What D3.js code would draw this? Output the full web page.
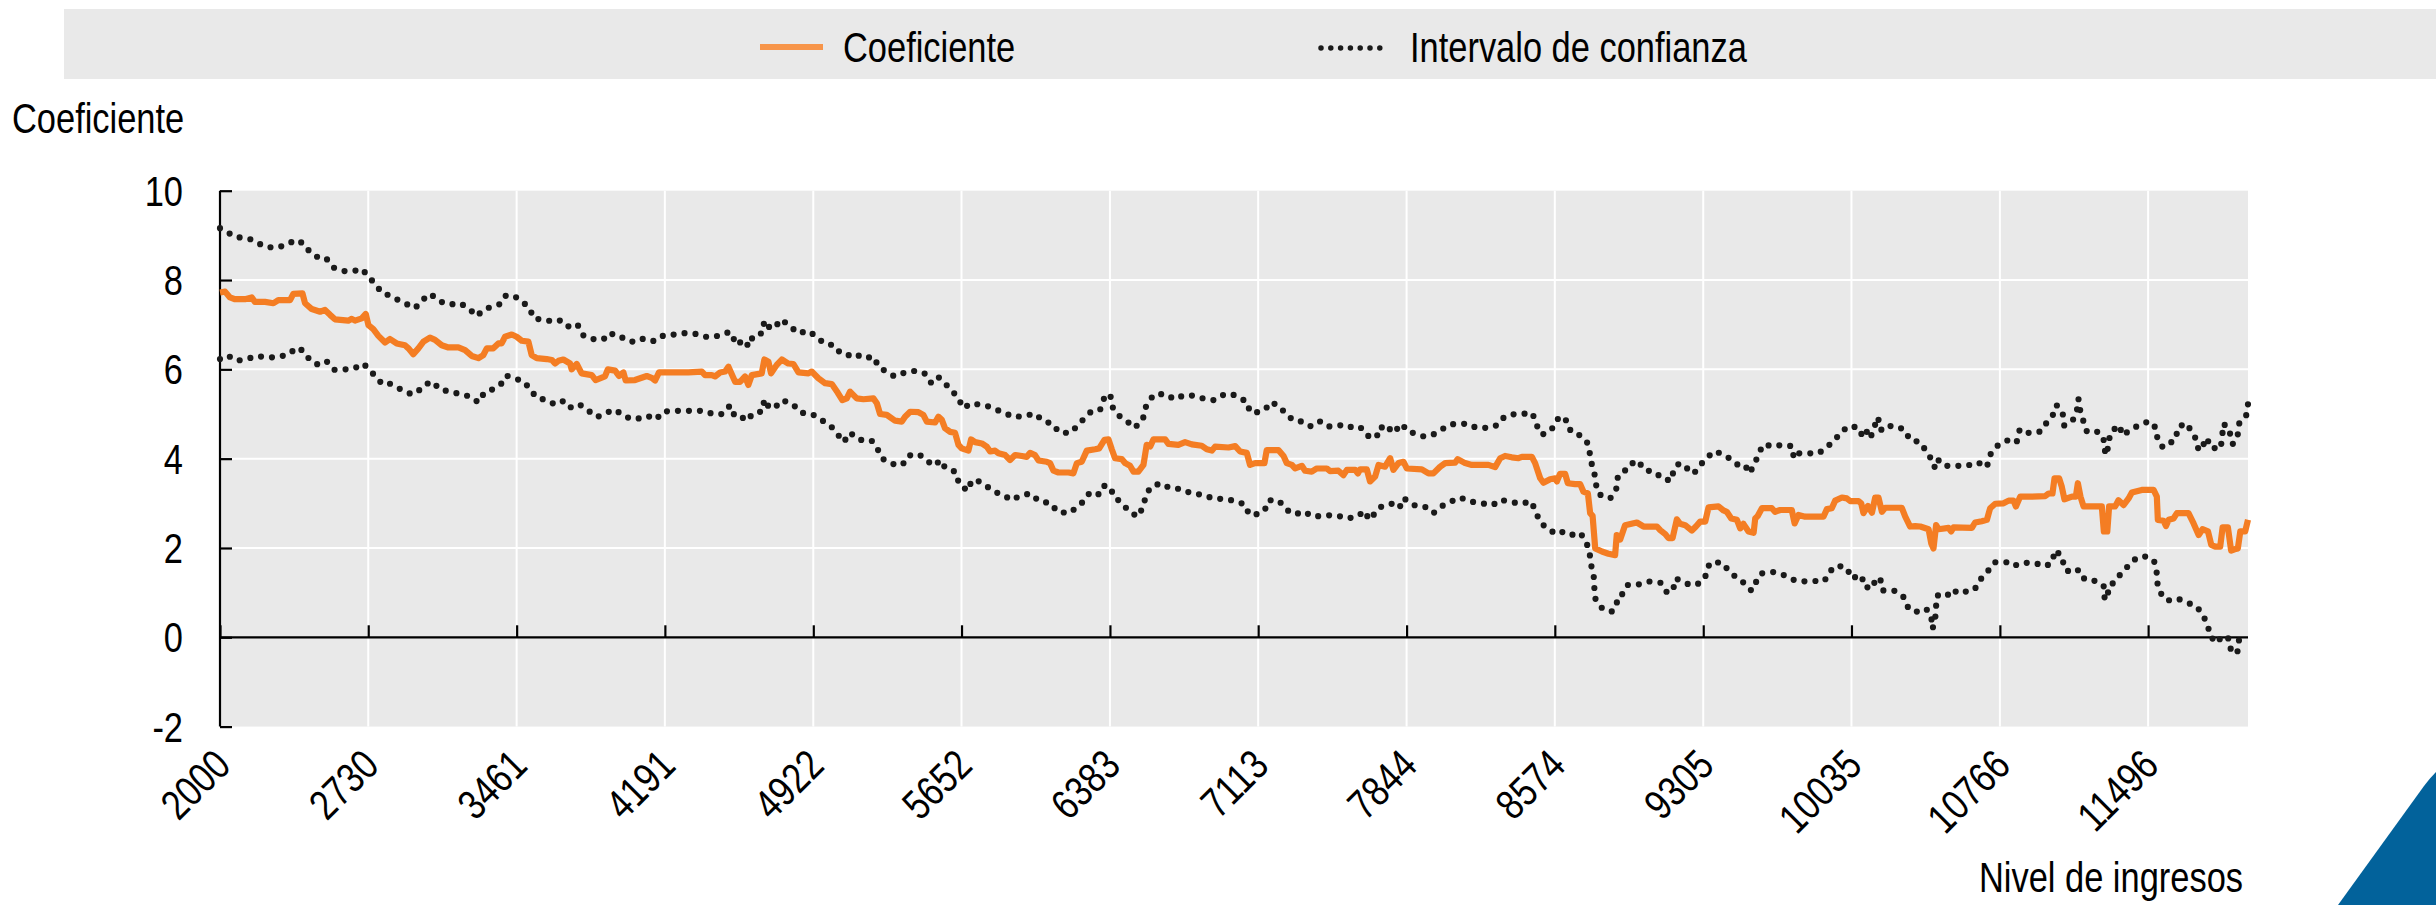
<!DOCTYPE html>
<html>
<head>
<meta charset="utf-8">
<script src="https://cdn.jsdelivr.net/npm/d3@7"></script>
<style>
  html, body { margin: 0; padding: 0; background: #ffffff; }
  svg { display: block; }
  text { font-family: 'Liberation Sans', Arial, sans-serif; fill: #000; }
</style>
</head>
<body>
<svg id="chart" width="2436" height="905"></svg>
<script>
// ---------------- DATA ----------------
const xTickLabels = [2000, 2730, 3461, 4191, 4922, 5652, 6383, 7113, 7844, 8574, 9305, 10035, 10766, 11496];
const yTickLabels = [-2, 0, 2, 4, 6, 8, 10];
const seriesNames = ["Coeficiente", "Intervalo de confianza"];
const yTitle = "Coeficiente";
const xTitle = "Nivel de ingresos";

// [income, coefficient]
const coeficiente = [
[2000,7.72],[2025,7.74],[2049,7.61],[2074,7.57],[2123,7.57],[2156,7.61],[2172,7.51],[2222,7.51],[2263,7.48],[2287,7.55],[2345,7.55],[2361,7.69],[2406,7.70],[2419,7.48],[2452,7.35],[2493,7.29],[2517,7.33],[2542,7.22],[2566,7.12],[2632,7.09],[2649,7.13],[2665,7.09],[2698,7.14],[2718,7.24],[2731,6.99],[2755,6.90],[2780,6.75],[2813,6.60],[2837,6.68],[2870,6.58],[2911,6.54],[2928,6.47],[2952,6.34],[2977,6.47],[3002,6.62],[3034,6.71],[3059,6.66],[3092,6.54],[3125,6.49],[3174,6.49],[3207,6.43],[3240,6.30],[3273,6.25],[3297,6.32],[3314,6.47],[3346,6.47],[3371,6.58],[3387,6.58],[3404,6.73],[3437,6.78],[3461,6.73],[3486,6.64],[3519,6.62],[3535,6.32],[3560,6.25],[3609,6.23],[3634,6.21],
[3650,6.13],[3667,6.19],[3691,6.22],[3724,6.13],[3732,6.00],[3757,6.12],[3781,5.91],[3831,5.87],[3850,5.76],[3896,5.84],[3910,6.00],[3946,5.97],[3965,5.85],[3987,5.93],[3998,5.75],[4044,5.76],[4102,5.85],[4126,5.81],[4143,5.75],[4162,5.93],[4225,5.93],[4307,5.93],[4373,5.95],[4389,5.87],[4422,5.87],[4438,5.84],[4463,5.93],[4488,5.95],[4504,6.06],[4537,5.72],[4561,5.72],[4586,5.84],[4602,5.65],[4619,5.87],[4668,5.91],[4681,6.22],[4701,6.17],[4714,5.91],[4742,6.10],[4767,6.22],[4799,6.13],[4824,6.12],[4849,5.93],[4898,5.91],[4914,5.95],[4947,5.80],[4980,5.69],[5013,5.67],[5042,5.48],[5065,5.31],[5087,5.35],[5103,5.50],[5136,5.35],[5169,5.33],[5218,5.35],[5235,5.24],[5251,5.00],[5284,4.98],
[5325,4.85],[5358,4.83],[5374,4.94],[5399,5.05],[5440,5.04],[5464,4.98],[5481,4.83],[5522,4.81],[5538,4.94],[5555,4.87],[5571,4.68],[5596,4.60],[5620,4.58],[5637,4.31],[5653,4.23],[5686,4.18],[5699,4.43],[5719,4.37],[5752,4.34],[5776,4.27],[5793,4.16],[5817,4.18],[5834,4.12],[5867,4.08],[5891,3.97],[5916,4.08],[5949,4.06],[5973,4.04],[5990,4.13],[6014,4.08],[6031,3.96],[6072,3.93],[6088,3.90],[6105,3.73],[6129,3.69],[6179,3.69],[6203,3.67],[6220,3.90],[6244,3.93],[6269,4.18],[6310,4.21],[6330,4.23],[6356,4.42],[6376,4.43],[6392,4.21],[6408,4.01],[6441,3.99],[6458,3.90],[6482,3.84],[6499,3.71],[6523,3.71],[6548,3.86],[6564,4.31],[6581,4.27],[6597,4.43],[6655,4.43],[6671,4.33],[6720,4.31],[6753,4.37],[6786,4.32],[6835,4.29],[6860,4.21],[6885,4.18],[6901,4.27],[6967,4.25],
[7000,4.28],[7024,4.16],[7057,4.13],[7073,3.86],[7098,3.90],[7144,3.90],[7155,4.19],[7213,4.19],[7238,4.06],[7254,3.90],[7279,3.86],[7295,3.78],[7328,3.84],[7344,3.73],[7377,3.71],[7402,3.78],[7451,3.78],[7467,3.72],[7508,3.73],[7533,3.63],[7550,3.75],[7591,3.75],[7604,3.67],[7615,3.76],[7648,3.76],[7664,3.49],[7689,3.60],[7706,3.86],[7738,3.82],[7763,4.01],[7779,3.75],[7804,3.90],[7829,3.93],[7845,3.78],[7919,3.76],[7952,3.67],[7976,3.67],[8009,3.82],[8034,3.90],[8083,3.91],[8096,3.99],[8132,3.90],[8165,3.86],[8247,3.86],[8280,3.81],[8305,4.01],[8329,4.06],[8362,4.03],[8395,4.01],[8412,4.04],[8461,4.04],[8477,3.90],[8502,3.56],[8518,3.46],[8551,3.54],[8576,3.56],[8584,3.49],[8600,3.66],[8625,3.66],[8638,3.45],
[8674,3.43],[8699,3.43],[8715,3.26],[8737,3.22],[8748,2.78],[8760,2.72],[8773,1.99],[8806,1.92],[8838,1.87],[8871,1.84],[8879,2.29],[8896,2.19],[8920,2.51],[8978,2.57],[9011,2.48],[9077,2.48],[9093,2.40],[9118,2.31],[9134,2.22],[9154,2.22],[9175,2.64],[9191,2.54],[9216,2.51],[9249,2.39],[9269,2.48],[9290,2.59],[9315,2.59],[9331,2.91],[9380,2.93],[9405,2.84],[9421,2.81],[9443,2.66],[9471,2.63],[9487,2.44],[9503,2.54],[9528,2.37],[9553,2.34],[9561,2.66],[9574,2.72],[9594,2.89],[9643,2.89],[9659,2.81],[9684,2.85],[9741,2.85],[9755,2.55],[9774,2.74],[9807,2.70],[9897,2.70],[9914,2.87],[9938,2.89],[9955,3.06],[9988,3.13],[10012,3.11],[10029,3.05],[10070,3.05],[10083,3.00],[10094,2.78],[10116,2.94],[10136,2.79],[10152,3.13],[10168,3.13],[10185,2.81],[10201,2.90],[10283,2.90],[10300,2.70],[10324,2.48],
[10349,2.49],[10374,2.48],[10415,2.42],[10428,2.10],[10439,1.99],[10452,2.51],[10464,2.42],[10513,2.45],[10526,2.37],[10538,2.46],[10628,2.45],[10644,2.57],[10677,2.60],[10702,2.63],[10718,2.89],[10743,2.99],[10784,3.00],[10809,3.06],[10833,3.06],[10845,2.93],[10866,3.15],[10924,3.15],[10989,3.16],[11006,3.22],[11025,3.22],[11035,3.56],[11058,3.56],[11071,3.37],[11084,3.09],[11121,3.15],[11140,3.15],[11150,3.45],[11163,3.15],[11178,2.93],[11268,2.93],[11278,2.37],[11295,2.37],[11304,2.93],[11334,2.93],[11350,3.07],[11375,2.96],[11400,3.11],[11416,3.24],[11465,3.30],[11523,3.30],[11539,3.15],[11544,2.63],[11572,2.61],[11584,2.49],[11597,2.63],[11621,2.66],[11638,2.78],[11695,2.78],[11720,2.55],[11745,2.29],[11764,2.42],[11791,2.37],[11807,2.07],[11827,2.03],[11851,2.03],[11863,2.46],[11889,2.46],[11905,1.94],[11922,1.97],[11938,1.99],[11950,2.37],[11974,2.37],[11988,2.63]
];

const intervaloSuperior = [
[2000,9.16],[2033,9.08],[2077,8.96],[2136,8.94],[2176,8.86],[2218,8.75],[2274,8.72],[2323,8.78],[2373,8.90],[2415,8.81],[2443,8.62],[2489,8.49],[2522,8.49],[2558,8.28],[2612,8.20],[2657,8.20],[2699,8.25],[2727,8.10],[2764,7.91],[2800,7.70],[2834,7.66],[2882,7.54],[2928,7.44],[2961,7.37],[2993,7.54],[3036,7.69],[3079,7.53],[3128,7.45],[3182,7.48],[3227,7.36],[3264,7.19],[3302,7.35],[3348,7.41],[3384,7.47],[3409,7.66],[3460,7.61],[3494,7.50],[3524,7.36],[3548,7.13],[3598,7.12],[3642,7.06],
[3683,7.10],[3724,6.93],[3762,6.99],[3791,6.75],[3844,6.67],[3888,6.67],[3921,6.82],[3962,6.71],[3995,6.71],[4036,6.61],[4087,6.69],[4139,6.63],[4185,6.76],[4238,6.78],[4290,6.81],[4348,6.79],[4392,6.73],[4438,6.73],[4491,6.82],[4520,6.82],[4540,6.55],[4586,6.66],[4602,6.51],[4627,6.76],[4671,6.81],[4681,7.09],[4709,6.92],[4730,6.92],[4763,7.12],[4808,6.97],[4845,6.81],[4901,6.86],[4941,6.71],[4980,6.57],[5026,6.54],[5054,6.37],[5092,6.31],[5125,6.36],[5167,6.25],[5220,6.28],[5243,6.06],[5281,5.95],[5322,5.84],
[5374,5.93],[5428,5.97],[5473,5.90],[5502,5.70],[5535,5.84],[5563,5.72],[5601,5.54],[5634,5.37],[5661,5.13],[5699,5.24],[5727,5.22],[5773,5.19],[5822,5.10],[5872,5.01],[5908,4.93],[5965,4.96],[6014,5.01],[6052,4.85],[6105,4.77],[6129,4.60],[6184,4.57],[6220,4.72],[6256,4.90],[6294,5.07],[6335,5.10],[6354,5.35],[6384,5.45],[6395,5.16],[6425,4.97],[6469,4.83],[6504,4.69],[6545,4.87],[6556,5.13],[6573,5.25],[6597,5.43],[6655,5.45],[6701,5.33],[6748,5.42],[6798,5.41],[6848,5.34],[6896,5.31],[6942,5.43],[6983,5.45],
[7013,5.37],[7057,5.28],[7073,5.04],[7111,5.04],[7147,5.10],[7177,5.27],[7221,5.16],[7254,4.97],[7295,4.84],[7336,4.83],[7374,4.72],[7421,4.84],[7463,4.72],[7515,4.75],[7550,4.69],[7594,4.74],[7632,4.66],[7660,4.48],[7696,4.48],[7715,4.72],[7755,4.60],[7771,4.75],[7820,4.60],[7834,4.72],[7873,4.58],[7922,4.50],[7968,4.52],[8011,4.64],[8062,4.77],[8109,4.78],[8146,4.78],[8187,4.69],[8247,4.69],[8290,4.75],[8316,4.90],[8354,4.99],[8405,5.00],[8464,5.02],[8482,4.77],[8510,4.54],[8540,4.58],[8576,4.75],[8595,4.95],[8636,4.84],[8653,4.60],
[8704,4.51],[8737,4.34],[8748,4.08],[8756,3.88],[8768,3.71],[8776,3.43],[8792,3.20],[8847,3.11],[8876,3.30],[8883,3.57],[8907,3.62],[8932,3.84],[8983,3.96],[9014,3.75],[9068,3.70],[9106,3.54],[9149,3.51],[9160,3.77],[9188,3.90],[9229,3.77],[9257,3.66],[9288,3.84],[9319,4.01],[9364,4.17],[9406,4.08],[9452,3.96],[9490,3.80],[9515,3.82],[9531,3.67],[9558,3.87],[9576,4.10],[9602,4.32],[9656,4.27],[9689,4.31],[9743,4.28],[9751,4.01],[9771,4.12],[9812,4.12],[9873,4.12],[9911,4.25],[9950,4.40],[9981,4.58],[10021,4.73],[10068,4.70],[10093,4.47],[10113,4.62],[10129,4.47],[10147,4.70],[10165,4.93],[10181,4.64],[10196,4.73],[10255,4.73],[10298,4.64],[10323,4.42],
[10374,4.37],[10401,4.18],[10428,3.99],[10444,3.81],[10456,4.00],[10490,3.84],[10543,3.84],[10603,3.84],[10656,3.92],[10702,3.81],[10717,4.08],[10751,4.28],[10797,4.40],[10838,4.45],[10850,4.39],[10864,4.66],[10912,4.57],[10968,4.61],[10997,4.81],[11027,4.98],[11045,5.20],[11075,5.03],[11083,4.74],[11126,4.87],[11145,5.07],[11153,5.34],[11162,5.07],[11178,4.83],[11195,4.60],[11252,4.60],[11277,4.42],[11285,4.13],[11293,4.08],[11301,4.37],[11313,4.60],[11354,4.75],[11370,4.52],[11408,4.64],[11451,4.75],[11502,4.84],[11534,4.69],[11543,4.42],[11569,4.25],[11592,4.32],[11633,4.43],[11641,4.69],[11681,4.80],[11708,4.63],[11733,4.43],[11745,4.18],[11761,4.25],[11786,4.47],[11802,4.25],[11853,4.22],[11861,4.49],[11866,4.78],[11897,4.67],[11904,4.38],[11914,4.33],[11937,4.52],[11945,4.79],[11978,4.94],[11988,5.22]
];

const intervaloInferior = [
[2000,6.23],[2038,6.31],[2082,6.19],[2140,6.24],[2176,6.30],[2230,6.27],[2284,6.27],[2340,6.34],[2378,6.49],[2415,6.40],[2443,6.20],[2489,6.09],[2527,6.17],[2563,5.99],[2619,6.00],[2662,6.02],[2703,6.13],[2727,6.04],[2764,5.85],[2801,5.66],[2836,5.68],[2882,5.57],[2931,5.46],[2967,5.46],[3000,5.63],[3043,5.73],[3087,5.54],[3141,5.50],[3190,5.43],[3227,5.40],[3273,5.26],[3302,5.48],[3348,5.56],[3384,5.67],[3410,5.86],[3463,5.78],[3499,5.72],[3525,5.56],[3561,5.36],[3611,5.31],[3650,5.21],
[3696,5.30],[3732,5.13],[3775,5.20],[3818,5.06],[3857,4.93],[3905,5.03],[3942,5.10],[3978,5.00],[4001,4.93],[4047,4.88],[4103,4.96],[4149,4.88],[4179,5.05],[4230,5.07],[4281,5.07],[4333,5.07],[4386,5.07],[4432,4.99],[4474,5.00],[4512,5.19],[4537,4.93],[4578,4.91],[4599,4.85],[4622,5.01],[4671,5.06],[4681,5.33],[4706,5.13],[4734,5.15],[4768,5.31],[4821,5.22],[4860,5.03],[4916,5.00],[4960,4.87],[5005,4.75],[5041,4.55],[5072,4.37],[5103,4.58],[5148,4.42],[5208,4.41],[5238,4.22],[5262,4.00],[5312,3.88],
[5361,3.86],[5390,4.07],[5443,4.10],[5478,3.96],[5519,3.84],[5548,3.97],[5571,3.80],[5624,3.70],[5640,3.43],[5683,3.28],[5702,3.51],[5727,3.52],[5773,3.39],[5817,3.25],[5858,3.19],[5896,3.07],[5942,3.17],[5991,3.22],[6034,3.05],[6092,3.00],[6124,2.81],[6182,2.78],[6220,2.91],[6257,3.06],[6285,3.25],[6331,3.20],[6354,3.39],[6384,3.37],[6404,3.13],[6441,3.02],[6474,2.83],[6520,2.70],[6548,2.93],[6560,3.19],[6586,3.37],[6633,3.45],[6679,3.34],[6737,3.32],[6784,3.22],[6845,3.19],[6894,3.10],[6945,3.10],[6993,3.06],
[7049,2.97],[7068,2.75],[7101,2.75],[7144,2.83],[7165,3.07],[7215,3.06],[7251,2.86],[7295,2.75],[7336,2.82],[7384,2.70],[7443,2.73],[7502,2.73],[7548,2.66],[7600,2.70],[7637,2.83],[7660,2.63],[7678,2.72],[7709,2.90],[7735,2.96],[7771,2.99],[7784,3.04],[7820,2.91],[7837,3.09],[7878,2.96],[7932,2.93],[7976,2.78],[8019,2.94],[8063,3.04],[8108,3.13],[8157,3.04],[8214,3.00],[8269,2.96],[8306,3.08],[8349,3.04],[8403,2.99],[8459,3.04],[8480,2.80],[8503,2.58],[8536,2.43],[8576,2.33],[8600,2.38],[8645,2.28],
[8699,2.34],[8727,2.15],[8745,1.92],[8751,1.64],[8765,1.43],[8768,1.15],[8773,0.87],[8801,0.67],[8852,0.57],[8876,0.67],[8884,0.91],[8904,0.95],[8932,1.17],[8983,1.18],[9039,1.25],[9096,1.22],[9127,1.00],[9155,1.04],[9170,1.32],[9196,1.26],[9246,1.16],[9288,1.21],[9319,1.39],[9336,1.66],[9393,1.68],[9428,1.51],[9467,1.34],[9508,1.21],[9543,1.04],[9563,1.22],[9590,1.43],[9649,1.46],[9704,1.39],[9748,1.29],[9781,1.25],[9842,1.26],[9902,1.26],[9927,1.47],[9963,1.61],[10014,1.55],[10034,1.32],[10085,1.39],[10098,1.13],[10140,1.10],[10154,1.32],[10177,1.31],[10188,1.05],[10249,1.04],[10290,0.91],[10310,0.69],[10346,0.56],
[10403,0.64],[10428,0.46],[10434,0.19],[10447,0.37],[10451,0.65],[10456,0.93],[10502,0.99],[10523,0.90],[10556,1.06],[10612,1.01],[10651,1.12],[10677,1.34],[10712,1.51],[10740,1.68],[10800,1.68],[10825,1.60],[10841,1.61],[10878,1.67],[10938,1.66],[10991,1.59],[11024,1.68],[11037,1.95],[11073,1.81],[11083,1.53],[11121,1.44],[11155,1.51],[11183,1.30],[11237,1.26],[11277,1.15],[11282,0.87],[11296,0.85],[11301,1.13],[11334,1.25],[11354,1.38],[11390,1.56],[11424,1.73],[11475,1.82],[11525,1.72],[11538,1.46],[11543,1.17],[11561,0.97],[11590,0.82],[11639,0.87],[11687,0.78],[11736,0.69],[11764,0.50],[11789,0.30],[11800,0.04],[11833,-0.13],[11864,0.04],[11896,-0.04],[11904,-0.30],[11935,-0.36],[11943,-0.07],[11988,-0.05]
];

// ---------------- LAYOUT ----------------
const W = 2436, H = 905;
const plot = { left: 220, right: 2248, top: 190.7, bottom: 726.6 };
const FONT = 42;
const NARROW = 0.82;   // horizontal condensing to mimic Arial Narrow
const ORANGE = "#f47d23";

const svg = d3.select("#chart");

const x = d3.scaleLinear().domain([2000, 11988]).range([plot.left, plot.right]);
const y = d3.scaleLinear().domain([-2, 10]).range([plot.bottom, plot.top]);

function narrowText(parent, tx, ty, str, anchor, extra) {
  return parent.append("text")
    .attr("transform", `translate(${tx},${ty}) ${extra || ""} scale(${NARROW},1)`)
    .attr("text-anchor", anchor || "start")
    .attr("font-size", FONT)
    .text(str);
}

// Legend box
svg.append("rect")
  .attr("x", 64).attr("y", 9).attr("width", W - 64).attr("height", 70)
  .attr("fill", "#e9e9e9");

const lg = svg.append("g");
lg.append("line").attr("x1", 760).attr("x2", 823).attr("y1", 47).attr("y2", 47)
  .attr("stroke", "#f7954a").attr("stroke-width", 6);
narrowText(lg, 843, 62, seriesNames[0]);
lg.append("line").attr("x1", 1321).attr("x2", 1380).attr("y1", 48).attr("y2", 48)
  .attr("stroke", "#1a1a1a").attr("stroke-width", 5.5)
  .attr("stroke-linecap", "round").attr("stroke-dasharray", "0 9.8");
narrowText(lg, 1410, 62, seriesNames[1]);

// Y title
narrowText(svg, 12, 133, yTitle);

// Plot background
svg.append("rect")
  .attr("x", plot.left).attr("y", plot.top)
  .attr("width", plot.right - plot.left).attr("height", plot.bottom - plot.top)
  .attr("fill", "#e9e9e9");

// Gridlines
const grid = svg.append("g");
grid.selectAll("line.v").data(xTickLabels.slice(1)).join("line")
  .attr("x1", d => x(d)).attr("x2", d => x(d))
  .attr("y1", plot.top).attr("y2", plot.bottom)
  .attr("stroke", "#ffffff").attr("stroke-width", 2);
grid.selectAll("line.h").data(yTickLabels.filter(d => d !== 0 && d !== -2 && d !== 10)).join("line")
  .attr("x1", plot.left).attr("x2", plot.right)
  .attr("y1", d => y(d)).attr("y2", d => y(d))
  .attr("stroke", "#ffffff").attr("stroke-width", 2);

// Y axis (ticks pointing inward)
const yAxis = d3.axisRight(y).tickValues(yTickLabels).tickSize(12).tickFormat("");
const yg = svg.append("g").attr("transform", `translate(${plot.left},0)`).call(yAxis);
yg.select(".domain").attr("stroke", "#000").attr("stroke-width", 2.2).attr("d", `M0,${plot.top}V${plot.bottom}`);
yg.selectAll(".tick line").attr("stroke", "#000").attr("stroke-width", 2.2);

// Y tick labels
const ylab = svg.append("g");
yTickLabels.forEach(d => {
  narrowText(ylab, 183, y(d), d, "end").attr("dy", "0.36em");
});

// X axis at y=0 with ticks pointing up
const xAxis = d3.axisTop(x).tickValues(xTickLabels).tickSize(12).tickFormat("");
const xg = svg.append("g").attr("transform", `translate(0,${y(0)})`).call(xAxis);
xg.select(".domain").attr("stroke", "#000").attr("stroke-width", 2.2).attr("d", `M${plot.left},0H${plot.right}`);
xg.selectAll(".tick line").attr("stroke", "#000").attr("stroke-width", 2.2);

// X tick labels (rotated)
const xlab = svg.append("g");
xTickLabels.forEach(d => {
  narrowText(xlab, x(d) + 2, 757, d, "end", "rotate(-45)").attr("dy", "0.36em");
});

// X title
narrowText(svg, 2243, 892, xTitle, "end");

// Lines
const line = d3.line().x(d => x(d[0])).y(d => y(d[1]));
const dotted = [intervaloSuperior, intervaloInferior];
svg.append("g").selectAll("path").data(dotted).join("path")
  .attr("d", line).attr("fill", "none")
  .attr("stroke", "#1a1a1a").attr("stroke-width", 6.2)
  .attr("stroke-linecap", "round").attr("stroke-dasharray", "0 11");
svg.append("path").datum(coeficiente)
  .attr("d", line).attr("fill", "none")
  .attr("stroke", ORANGE).attr("stroke-width", 6.2).attr("stroke-linejoin", "round");

// Corner decoration
svg.append("path")
  .attr("d", `M2338,905 L2424,786 Q2430,778 2436,772 L2436,905 Z`)
  .attr("fill", "#02629b");
</script>
</body>
</html>
